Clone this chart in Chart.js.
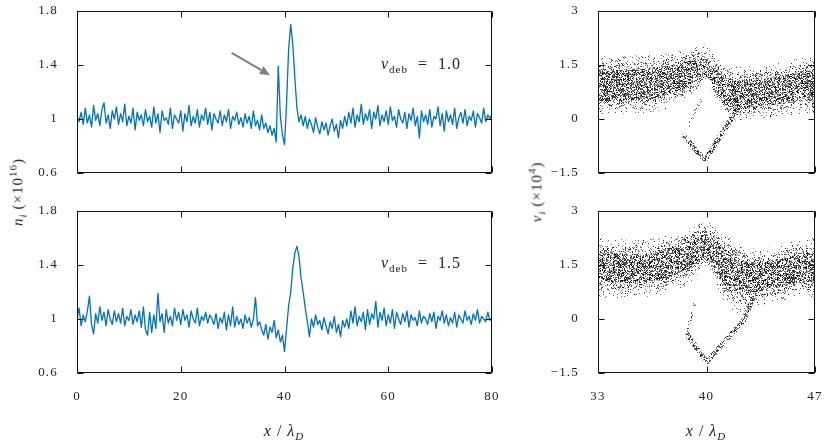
<!DOCTYPE html>
<html><head><meta charset="utf-8">
<script src="https://cdn.jsdelivr.net/npm/chart.js@4.4.1/dist/chart.umd.min.js"></script>
<style>
body{margin:0;background:#fff;width:830px;height:444px;overflow:hidden;position:relative;font-family:"Liberation Serif",serif;color:#222;}
canvas{position:absolute;left:0;top:0;}
.lbl{position:absolute;font-size:15px;white-space:nowrap;line-height:1;letter-spacing:1px;}
.sb{font-size:11px;position:relative;top:4px;}
.sp{font-size:11px;position:relative;top:-6px;}
.eq{margin:0 10px;}
</style></head><body>
<canvas id="cTL" width="830" height="444"></canvas>
<canvas id="cBL" width="830" height="444"></canvas>
<canvas id="cTR" width="830" height="444"></canvas>
<canvas id="cBR" width="830" height="444"></canvas>

<div class="lbl" style="left:18px;top:192px;transform:translate(-50%,-50%) rotate(-90deg);"><i>n</i><i class="sb">i</i>&thinsp;(×10<span class="sp">16</span>)</div>
<div class="lbl" style="left:537px;top:192px;transform:translate(-50%,-50%) rotate(-90deg);"><i>v</i><i class="sb">i</i>&thinsp;(×10<span class="sp">4</span>)</div>
<div class="lbl" style="left:284px;top:431px;transform:translate(-50%,-50%);font-size:16px;"><i>x</i> / <i>λ</i><i class="sb">D</i></div>
<div class="lbl" style="left:706px;top:431px;transform:translate(-50%,-50%);font-size:16px;"><i>x</i> / <i>λ</i><i class="sb">D</i></div>
<div class="lbl" style="left:381px;top:56px;font-size:16px;"><i>v</i><span class="sb">deb</span><span class="eq">=</span>1.0</div>
<div class="lbl" style="left:381px;top:255px;font-size:16px;"><i>v</i><span class="sb">deb</span><span class="eq">=</span>1.5</div>

<script>
// ---------- data ----------
const xStep = 0.4; // spatial sampling of density profiles (x/λD)
const nTop = [
1.02,0.98,1.05,0.96,1.08,0.97,1.03,0.94,1.10,0.99,
1.04,0.95,1.07,1.12,0.97,1.03,0.93,1.06,1.00,1.09,
0.96,1.04,0.98,1.11,0.95,1.02,0.97,1.08,0.92,1.05,
0.99,1.03,0.95,1.07,0.98,1.02,0.94,1.09,0.97,1.04,
0.90,1.06,0.99,1.01,0.96,1.08,0.93,1.03,1.00,0.97,
1.06,0.91,1.04,0.98,1.10,0.95,1.02,0.97,1.07,0.94,
1.03,0.99,1.08,0.96,1.05,0.92,1.04,1.00,0.97,1.06,
0.95,1.03,0.98,1.07,0.93,1.02,0.99,1.05,0.96,1.01,
0.94,1.04,0.97,1.02,0.93,1.06,0.95,0.99,0.92,1.03,
0.93,0.97,0.90,0.95,0.88,0.93,0.83,1.39,1.02,0.88,
0.81,1.12,1.52,1.70,1.55,1.30,1.08,0.98,1.03,0.95,
1.02,0.93,1.00,0.96,0.90,1.01,0.94,0.89,0.98,0.92,
0.97,0.88,0.95,1.00,0.91,0.96,0.86,0.99,0.93,1.02,
0.95,1.05,0.97,1.08,0.94,1.03,0.98,1.11,0.96,1.04,
0.99,1.07,0.93,1.05,1.00,1.10,0.95,1.03,0.98,1.06,
0.96,1.09,0.99,1.02,0.94,1.07,1.00,0.97,1.05,0.93,
1.04,0.99,1.08,0.95,1.02,0.86,1.06,0.98,1.03,0.96,
1.07,0.94,1.02,1.00,1.09,0.95,1.04,0.91,1.06,0.98,
1.03,0.96,1.08,0.93,1.01,1.05,0.97,1.07,0.95,1.02,
0.99,1.06,0.94,1.04,1.01,0.97,1.08,0.98,1.03,1.00,
1.04];
const nBot = [
1.00,1.08,0.95,1.03,0.98,1.06,1.17,0.96,0.89,1.04,
0.97,1.09,0.99,1.05,0.95,1.07,1.00,0.96,1.06,0.98,
1.04,0.97,1.08,0.95,1.02,0.99,1.07,0.96,1.03,0.98,
1.06,0.94,1.09,0.92,0.88,1.05,0.90,1.03,0.93,1.19,
0.98,1.04,0.90,1.07,0.97,1.02,0.95,1.08,0.99,1.05,
0.96,1.07,0.99,1.03,0.94,1.06,1.00,0.97,1.08,0.95,
1.02,0.99,1.05,0.97,1.03,1.00,0.96,1.04,0.93,1.01,
0.97,1.05,0.92,1.03,0.95,1.09,0.94,1.02,0.96,1.00,
0.93,1.03,0.97,1.01,0.94,1.00,1.16,0.95,0.98,0.92,
0.88,0.96,0.85,0.94,0.90,0.99,0.86,0.92,0.83,0.88,
0.76,0.93,1.10,1.20,1.38,1.49,1.54,1.46,1.30,1.20,
1.08,0.98,0.87,1.00,0.94,1.03,0.96,0.99,0.92,1.01,
0.95,0.89,0.98,0.93,1.02,0.90,0.96,0.87,0.99,0.94,
1.00,0.93,1.06,0.97,1.09,0.95,1.02,0.98,1.05,0.92,
1.07,0.96,1.04,1.00,1.13,0.94,1.05,0.99,1.08,0.95,
1.03,0.97,1.07,0.93,1.05,1.00,0.96,1.04,0.98,1.06,
0.94,1.03,0.99,1.01,0.95,1.06,0.97,1.02,1.00,0.96,
1.04,0.98,1.05,0.93,1.02,0.99,1.06,0.97,1.03,0.95,
1.01,0.97,1.05,0.94,1.03,1.00,0.97,1.06,0.99,1.02,
0.96,1.04,0.99,1.07,0.97,1.02,1.00,0.98,1.05,0.99,
1.01];

// phase space (v_deb = 1.0): band envelopes (halo ⊃ mid ⊃ core)
const vxTop   = [33,34,35,36,37,38,38.5,39,39.5,39.8,40.2,40.6,41,41.5,42,43,44,45,46,47];
const coreHi1 = [1.40,1.38,1.40,1.42,1.45,1.52,1.57,1.63,1.70,1.74,1.60,1.38,1.22,1.12,1.06,1.08,1.14,1.22,1.30,1.38];
const coreLo1 = [0.48,0.50,0.52,0.55,0.60,0.72,0.82,0.95,1.08,1.18,1.10,0.78,0.50,0.32,0.25,0.32,0.38,0.44,0.48,0.50];
const midHi1  = [1.57,1.55,1.57,1.60,1.62,1.68,1.73,1.79,1.86,1.91,1.77,1.56,1.40,1.31,1.25,1.28,1.33,1.41,1.49,1.57];
const midLo1  = [0.29,0.31,0.33,0.36,0.41,0.53,0.65,0.78,0.94,1.08,1.01,0.66,0.37,0.18,0.10,0.16,0.21,0.26,0.30,0.32];
const haloHi1 = [1.75,1.72,1.75,1.78,1.80,1.85,1.90,1.96,2.02,2.08,1.95,1.75,1.58,1.50,1.45,1.48,1.52,1.60,1.68,1.78];
const haloLo1 = [0.10,0.12,0.15,0.18,0.22,0.35,0.48,0.60,0.80,0.98,0.92,0.55,0.25,0.05,-0.05,0.00,0.05,0.08,0.12,0.15];
const trapDX1 = [38.5,39.9,42.1], trapDY1 = [-0.45,-1.14,0.35];
const trapSX1 = [38.5,39.7],      trapSY1 = [-0.45,0.57];
// phase space (v_deb = 1.5)
const vxBot   = [33,34,35,36,37,38,38.5,39,39.5,39.8,40.2,40.6,41,41.5,42,42.5,43,44,45,46,47];
const coreHi2 = [1.85,1.82,1.80,1.82,1.90,2.02,2.10,2.18,2.28,2.35,2.30,2.18,2.00,1.85,1.70,1.60,1.55,1.58,1.70,1.80,1.85];
const coreLo2 = [1.05,1.02,1.00,1.02,1.10,1.22,1.30,1.40,1.52,1.62,1.55,1.30,1.05,0.85,0.72,0.70,0.75,0.80,0.92,1.00,1.05];
const midHi2  = [2.05,2.02,2.00,2.02,2.10,2.21,2.29,2.37,2.45,2.52,2.47,2.35,2.19,2.05,1.90,1.80,1.75,1.78,1.90,2.00,2.05];
const midLo2  = [0.82,0.80,0.79,0.81,0.89,1.01,1.10,1.22,1.38,1.55,1.47,1.15,0.82,0.57,0.43,0.47,0.55,0.61,0.72,0.79,0.82];
const haloHi2 = [2.25,2.22,2.20,2.22,2.30,2.40,2.48,2.55,2.62,2.70,2.65,2.52,2.38,2.25,2.10,2.00,1.95,1.98,2.10,2.20,2.25];
const haloLo2 = [0.60,0.58,0.58,0.60,0.68,0.80,0.90,1.05,1.25,1.48,1.40,1.00,0.60,0.30,0.15,0.25,0.35,0.42,0.52,0.58,0.60];
const trapDX2 = [38.7,40.0,42.4,43.0], trapDY2 = [-0.4,-1.2,-0.04,0.6];
const trapSX2 = [38.7,39.3],          trapSY2 = [-0.4,0.5];

// ticks
const nXTicks = [0,20,40,60,80];
const nYTicks = [0.6,1,1.4,1.8];
const vXTicks = [33,40,47];
const vYTicks = [-1.5,0,1.5,3];
// annotation arrow (data coords, top-left panel)
const arrowFrom = [29.8,1.49], arrowTo = [37.2,1.325];

// ---------- helpers ----------
const FONT = {family:'"Liberation Serif", serif', size:13};
const pts = (xs, ys) => xs.map((x,i)=>({x, y:ys[i]}));
const series = arr => arr.map((v,i)=>({x:+(i*xStep).toFixed(1), y:v}));

// stipple texture (style only): evenly scattered 1px grains
function stipple(n, seed){
  const S=128;
  const c=document.createElement('canvas'); c.width=c.height=S;
  const g=c.getContext('2d');
  let a=seed|0;
  const nx=()=>{ a=(a+0x6D2B79F5)|0; let t=Math.imul(a^(a>>>15),1|a); t=(t+Math.imul(t^(t>>>7),61|t))^t; return ((t^(t>>>14))>>>0)/4294967296; };
  for(let k=0;k<n;k++){
    const x=Math.floor(nx()*S), y=Math.floor(nx()*S);
    g.fillStyle='rgba(0,0,0,'+(0.35+0.55*nx()).toFixed(2)+')';
    g.fillRect(x,y,1,1);
  }
  return g.createPattern(c,'repeat');
}
const haloPat  = stipple(1300, 987654321);
const midPat   = stipple(3200, 555555555);
const corePat  = stipple(8000, 123456789);
const densePat = stipple(9500, 362436069);
const sparsePat= stipple(2500, 521288629);

const spacingPlugin = {
  id:'spacing',
  beforeDraw(chart){ chart.ctx.letterSpacing = '1.2px'; }
};
const framePlugin = {
  id:'frame',
  afterDraw(chart, args, opts){
    const {ctx, chartArea:a, scales:{x,y}} = chart;
    ctx.save();
    ctx.strokeStyle='#111'; ctx.lineWidth=1;
    const L=Math.round(a.left)+0.5, R=Math.round(a.right)-0.5, T=Math.round(a.top)+0.5, B=Math.round(a.bottom)-0.5;
    ctx.strokeRect(L,T,R-L,B-T);
    const tl=6;
    ctx.beginPath();
    opts.xt.forEach(v=>{const p=Math.round(x.getPixelForValue(v))+0.5; ctx.moveTo(p,B); ctx.lineTo(p,B-tl); ctx.moveTo(p,T); ctx.lineTo(p,T+tl);});
    opts.yt.forEach(v=>{const p=Math.round(y.getPixelForValue(v))+0.5; ctx.moveTo(L,p); ctx.lineTo(L+tl,p); ctx.moveTo(R,p); ctx.lineTo(R-tl,p);});
    ctx.stroke();
    ctx.restore();
  }
};
const arrowPlugin = {
  id:'arrow',
  afterDatasetsDraw(chart, args, opts){
    if(!opts.on) return;
    const {ctx, scales:{x,y}} = chart;
    const x0=x.getPixelForValue(arrowFrom[0]), y0=y.getPixelForValue(arrowFrom[1]);
    const x1=x.getPixelForValue(arrowTo[0]), y1=y.getPixelForValue(arrowTo[1]);
    const ang=Math.atan2(y1-y0,x1-x0), hl=10, hw=4.5;
    const bx=x1-hl*Math.cos(ang), by=y1-hl*Math.sin(ang);
    ctx.save();
    ctx.strokeStyle='#808080'; ctx.fillStyle='#808080'; ctx.lineWidth=2;
    ctx.beginPath(); ctx.moveTo(x0,y0); ctx.lineTo(bx,by); ctx.stroke();
    ctx.beginPath(); ctx.moveTo(x1,y1);
    ctx.lineTo(bx+hw*Math.sin(ang), by-hw*Math.cos(ang));
    ctx.lineTo(bx-hw*Math.sin(ang), by+hw*Math.cos(ang));
    ctx.closePath(); ctx.fill();
    ctx.restore();
  }
};

function makeChart(id, datasets, o){
  return new Chart(document.getElementById(id), {
    type:'line',
    data:{datasets},
    plugins:[spacingPlugin, framePlugin, arrowPlugin],
    options:{
      responsive:false, animation:false, devicePixelRatio:1,
      layout:{padding:o.pad},
      plugins:{legend:{display:false}, tooltip:{enabled:false},
        frame:{xt:o.xt, yt:o.yt}, arrow:{on:!!o.arrow}},
      elements:{point:{radius:0}, line:{borderJoinStyle:'round'}},
      scales:{
        x:{type:'linear', min:o.xmin, max:o.xmax,
           grid:{display:false, drawTicks:false}, border:{display:false},
           ticks:{display:o.showX, font:FONT, color:'#222', padding:16, maxRotation:0},
           afterBuildTicks:s=>{s.ticks=o.xt.map(v=>({value:v}));},
           afterFit:s=>{ s.height=71; s.paddingLeft=0; s.paddingRight=0; }},
        y:{type:'linear', min:o.ymin, max:o.ymax,
           grid:{display:false, drawTicks:false}, border:{display:false},
           ticks:{font:FONT, color:'#222', padding:19,
             callback:v=>String(v).replace('-','\u2212')},
           afterBuildTicks:s=>{s.ticks=o.yt.map(v=>({value:v}));},
           afterFit:s=>{ s.width=o.yw; s.paddingTop=0; s.paddingBottom=0; }}
      }
    }
  });
}

const blue = '#0072BD';
makeChart('cTL', [{data:series(nTop), borderColor:blue, borderWidth:1.3, fill:false}],
  {pad:{left:0,right:338,top:11,bottom:200}, xt:nXTicks, yt:nYTicks, xmin:0,xmax:80,ymin:0.6,ymax:1.8, showX:false, yw:77, arrow:true});
makeChart('cBL', [{data:series(nBot), borderColor:blue, borderWidth:1.3, fill:false}],
  {pad:{left:0,right:338,top:211,bottom:0}, xt:nXTicks, yt:nYTicks, xmin:0,xmax:80,ymin:0.6,ymax:1.8, showX:true, yw:77});

function phaseSets(vx, hHi, hLo, mHi, mLo, cHi, cLo, dX, dY, sX, sY){
  const base = {borderWidth:0, borderColor:'rgba(0,0,0,0)', cubicInterpolationMode:'monotone'};
  return [
    {...base, data:pts(vx,hHi), fill:false},
    {...base, data:pts(vx,hLo), fill:'-1', backgroundColor:haloPat},
    {...base, data:pts(vx,mHi), fill:false},
    {...base, data:pts(vx,mLo), fill:'-1', backgroundColor:midPat},
    {...base, data:pts(vx,cHi), fill:false},
    {...base, data:pts(vx,cLo), fill:'-1', backgroundColor:corePat},
    {data:pts(dX,dY), borderColor:densePat, borderWidth:5, fill:false},
    {data:pts(sX,sY), borderColor:sparsePat, borderWidth:3, fill:false}
  ];
}
makeChart('cTR', phaseSets(vxTop,haloHi1,haloLo1,midHi1,midLo1,coreHi1,coreLo1,trapDX1,trapDY1,trapSX1,trapSY1),
  {pad:{left:0,right:15,top:11,bottom:200}, xt:vXTicks, yt:vYTicks, xmin:33,xmax:47,ymin:-1.5,ymax:3, showX:false, yw:598});
makeChart('cBR', phaseSets(vxBot,haloHi2,haloLo2,midHi2,midLo2,coreHi2,coreLo2,trapDX2,trapDY2,trapSX2,trapSY2),
  {pad:{left:0,right:15,top:211,bottom:0}, xt:vXTicks, yt:vYTicks, xmin:33,xmax:47,ymin:-1.5,ymax:3, showX:true, yw:598});
</script>
</body></html>
